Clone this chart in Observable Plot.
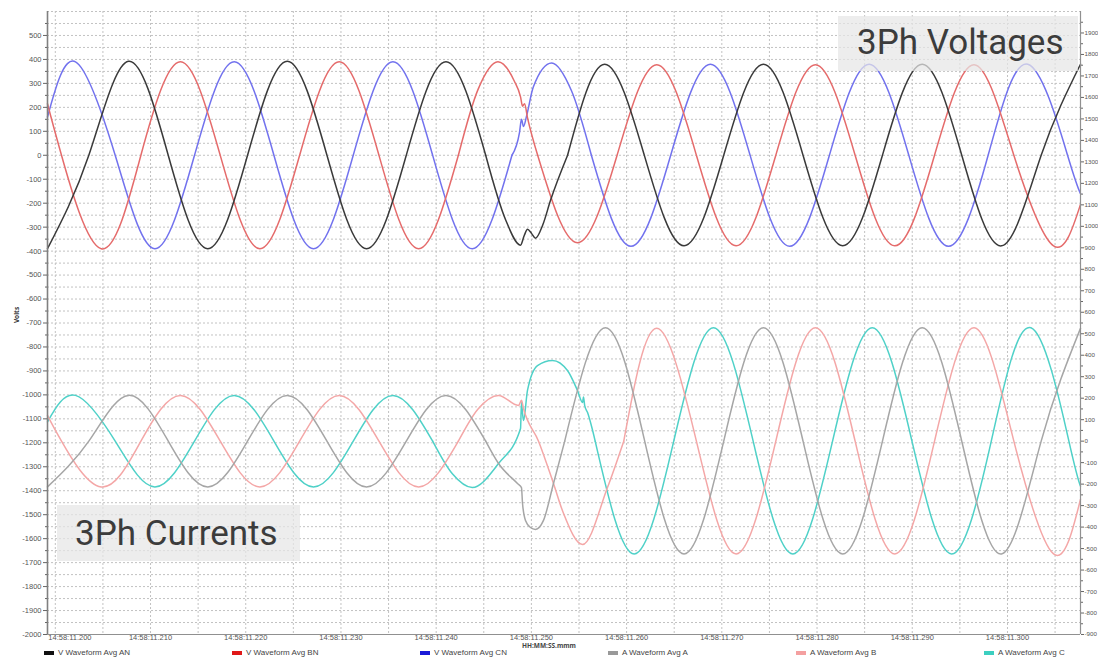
<!DOCTYPE html>
<html><head><meta charset="utf-8">
<script src="https://cdn.jsdelivr.net/npm/d3@7"></script>
<script src="https://cdn.jsdelivr.net/npm/@observablehq/plot@0.6"></script>
<style>
body{margin:0;background:#fff;font-family:"Liberation Sans",Arial,sans-serif;}
#wrap{position:relative;width:1098px;height:659px;overflow:hidden;background:#fff;}
#chart{position:absolute;left:0;top:0;}
.box{position:absolute;background:rgba(230,230,230,0.72);font-family:Roboto,sans-serif;font-size:35px;color:#3c3c3c;box-sizing:border-box;line-height:1;}
#legend{position:absolute;left:0;top:647px;width:1098px;height:11px;font-size:8px;line-height:10px;color:#444;}
.li{position:absolute;top:0;height:11px;display:flex;align-items:center;white-space:nowrap;}
.sw{display:inline-block;width:10px;height:4px;margin-right:4px;}
</style></head><body><div id="wrap"><div id="chart"></div>
<div class="box" id="boxV" style="left:838px;top:16px;width:240px;height:55px;padding:9px 0 0 19px;">3Ph Voltages</div>
<div class="box" id="boxA" style="left:57px;top:505px;width:243px;height:56px;padding:11px 0 0 18px;">3Ph Currents</div>
<div id="legend"></div></div>
<script>
// ---- axis domains / ticks ----
const timeDomain = [199.18, 307.67];          // ms after 14:58:11
const voltDomain = [-2000, 600];               // left axis (Volts)
const ampDomain = [-900, 2000];                // right axis (Amps)
const timeTicks = [210, 220, 230, 240, 250, 260, 270, 280, 290, 300];
const timePrefix = "14:58:11.";
const legendNames = ["V Waveform Avg AN", "V Waveform Avg BN", "V Waveform Avg CN", "A Waveform Avg A", "A Waveform Avg B", "A Waveform Avg C"];

// ---- voltage V AN (black) [ms, V] ----
const vAN_pre = [[199.18,-390],[203.52,0],[207.69,392],[211.86,0],[216.02,-390],[220.19,0],[224.36,392],[228.53,0],[232.69,-390],[236.86,0],[241.03,390],[245.2,0]];
const vAN_evt = [[245.2,0],[247.3,-270],[248.86,-375],[249.25,-335],[249.59,-309],[250.0,-325],[250.43,-346],[251.2,-290],[252.01,-188],[253.8,0]];
const vAN_post = [[253.8,0],[257.7,380],[261.86,0],[266.03,-378],[270.2,0],[274.37,380],[278.53,0],[282.7,-378],[286.87,0],[291.04,380],[295.2,0],[299.37,-378],[303.54,0],[307.67,380]];
// ---- voltage V BN (red) ----
const vBN_pre = [[199.18,215],[200.65,0],[204.82,-390],[208.99,0],[213.15,390],[217.32,0],[221.49,-390],[225.66,0],[229.82,390],[233.99,0],[238.16,-390],[242.33,0]];
const vBN_evt = [[242.33,0],[244.4,275],[246.49,390],[248.2,310],[248.86,244],[249.07,205],[249.28,215],[249.6,155],[250.66,0]];
const vBN_post = [[250.66,0],[254.83,-365],[259.0,0],[263.16,378],[267.33,0],[271.5,-378],[275.67,0],[279.83,378],[284.0,0],[288.17,-378],[292.34,0],[296.5,378],[300.67,0],[304.84,-378],[307.67,-205]];
// ---- voltage V CN (blue) ----
const vCN_pre = [[199.18,160],[202.12,390],[206.29,0],[210.45,-390],[214.62,0],[218.79,390],[222.96,0],[227.12,-390],[231.29,0],[235.46,390],[239.63,0],[243.79,-390],[247.96,0]];
const vCN_evt = [[247.96,0],[248.75,95],[248.96,150],[249.17,120],[249.5,165],[250.2,285],[252.13,385],[254.2,270],[256.3,0]];
const vCN_post = [[256.3,0],[260.46,-380],[264.63,0],[268.8,380],[272.97,0],[277.13,-380],[281.3,0],[285.47,380],[289.64,0],[293.8,-380],[297.97,0],[302.14,380],[306.31,0],[307.67,-160]];
// ---- current A A (grey) [ms, A] ----
const aA_pre = [[199.18,-213],[203.52,0],[207.69,213],[211.86,0],[216.02,-213],[220.19,0],[224.36,213],[228.53,0],[232.69,-213],[236.86,0],[241.03,213],[245.2,0]];
const aA_evt = [[245.2,0],[246.55,-104],[248.54,-197],[248.96,-216],[249.07,-290],[249.38,-369],[249.91,-402],[250.43,-411],[251.27,-369],[252.32,-197],[253.5,0]];
const aA_post = [[253.5,0],[257.78,528],[261.9,0],[266.03,-525],[270.2,0],[274.37,528],[278.53,0],[282.7,-525],[286.87,0],[291.04,528],[295.2,0],[299.37,-525],[303.54,0],[307.67,525]];
// ---- current A B (pink) ----
const aB_pre = [[199.18,120],[200.65,0],[204.82,-213],[208.99,0],[213.15,213],[217.32,0],[221.49,-213],[225.66,0],[229.82,213],[233.99,0],[238.16,-213],[242.33,0]];
const aB_evt = [[242.33,0],[244.4,150],[246.55,213],[248.65,166],[248.96,190],[249.17,152],[250.75,0],[252.32,-197],[253.37,-336],[255.37,-481],[257.99,-216],[259.7,0]];
const aB_post = [[259.7,0],[263.16,525],[267.33,0],[271.5,-525],[275.67,0],[279.83,528],[284.0,0],[288.17,-525],[292.34,0],[296.5,528],[300.67,0],[304.84,-525],[307.67,-270]];
// ---- current A C (teal) ----
const aC_pre = [[199.18,90],[202.12,213],[206.29,0],[210.45,-213],[214.62,0],[218.79,213],[222.96,0],[227.12,-213],[231.29,0],[235.46,213],[239.63,0]];
const aC_evt = [[239.63,0],[241.7,-152],[243.79,-216],[246.55,-104],[248.86,59],[248.96,180],[249.07,130],[249.17,96],[249.59,236],[250.64,352],[252.22,376],[253.79,329],[254.84,236],[255.37,180],[255.47,205],[255.6,165],[255.89,134],[256.7,0]];
const aC_post = [[256.7,0],[260.8,-525],[264.95,0],[269.12,528],[273.29,0],[277.46,-525],[281.63,0],[285.8,528],[289.97,0],[294.13,-525],[298.3,0],[302.47,528],[306.45,0],[307.67,-210]];

// ---- build ----
const ampToVolt = d3.scaleLinear().domain(ampDomain).range(voltDomain);
const series = [
  {name: legendNames[0], color: "#3a3a3a", amp: false, pre: vAN_pre, evt: vAN_evt, post: vAN_post},
  {name: legendNames[1], color: "#e56b6b", amp: false, pre: vBN_pre, evt: vBN_evt, post: vBN_post},
  {name: legendNames[2], color: "#7272ee", amp: false, pre: vCN_pre, evt: vCN_evt, post: vCN_post},
  {name: legendNames[3], color: "#a6a6a6", amp: true, pre: aA_pre, evt: aA_evt, post: aA_post},
  {name: legendNames[4], color: "#f4a7a7", amp: true, pre: aB_pre, evt: aB_evt, post: aB_post},
  {name: legendNames[5], color: "#4fd1c8", amp: true, pre: aC_pre, evt: aC_evt, post: aC_post}
];
const swatchColors = ["#111", "#e01818", "#1a1ad8", "#999", "#f4a0a0", "#3ccfc0"];
function toRows(arr, s, seg) {
  return arr.map(([t, v]) => ({t, y: s.amp ? ampToVolt(v) : v, seg}));
}
const lineMarks = [];
for (const s of series.slice().reverse()) {
  const smooth = toRows(s.pre, s, "pre").concat(toRows(s.post, s, "post"));
  lineMarks.push(Plot.line(smooth, {x: "t", y: "y", z: "seg", stroke: s.color, strokeWidth: 1.5, curve: "natural"}));
  lineMarks.push(Plot.line(toRows(s.evt, s, "evt"), {x: "t", y: "y", stroke: s.color, strokeWidth: 1.5, curve: "monotone-x"}));
}
const gridY = d3.range(voltDomain[0], voltDomain[1] + 1, 50);
const gridX = d3.range(200, 308, 5);
const leftMajor = d3.range(-2000, 600, 100);
const leftMinor = d3.range(-1950, 600, 100);
const rightMajor = d3.range(-900, 2000, 100).map(ampToVolt);
const rightMinor = d3.range(-850, 2000, 100).map(ampToVolt);
const tickFont = {fontSize: 7.5, fill: "#555", fontFamily: "Liberation Sans, Arial, sans-serif"};

const chart = Plot.plot({
  width: 1098, height: 647,
  marginLeft: 47, marginRight: 18, marginTop: 11, marginBottom: 13,
  x: {domain: timeDomain, label: null},
  y: {domain: voltDomain, label: null},
  style: {background: "transparent", overflow: "visible"},
  marks: [
    Plot.gridY(gridY, {stroke: "#c2c2c2", strokeOpacity: 1, strokeDasharray: "2,2"}),
    Plot.gridX(gridX, {stroke: "#c2c2c2", strokeOpacity: 1, strokeDasharray: "2,2"}),
    ...lineMarks,
    Plot.ruleX([timeDomain[0]], {stroke: "#808080", strokeWidth: 1.6}),
    Plot.ruleX([timeDomain[1]], {stroke: "#909090", strokeWidth: 1.2}),
    Plot.ruleY([voltDomain[0]], {stroke: "#909090", strokeWidth: 1.2}),
    Plot.axisY(leftMajor, {anchor: "left", tickSize: 4, tickPadding: 2, stroke: "#666", ...tickFont, tickFormat: d => String(d)}),
    Plot.axisY(leftMinor, {anchor: "left", tickSize: 2, stroke: "#666", tickFormat: () => null}),
    Plot.axisY(rightMajor, {anchor: "right", tickSize: 3, tickPadding: 1, stroke: "#666", ...tickFont, fontSize: 6.2, tickFormat: d => String(Math.round(ampToVolt.invert(d)))}),
    Plot.axisY(rightMinor, {anchor: "right", tickSize: 2, stroke: "#666", tickFormat: () => null}),
    Plot.axisX(timeTicks, {anchor: "bottom", tickSize: 0, tickPadding: 0, ...tickFont, tickFormat: d => timePrefix + d}),
    Plot.axisX([200], {anchor: "bottom", tickSize: 0, tickPadding: 0, ...tickFont, textAnchor: "start", dx: -7, tickFormat: d => timePrefix + d}),
    Plot.text(["HH:MM:SS.mmm"], {frameAnchor: "bottom", dx: -15, dy: 13, fontSize: 6.5, fontWeight: "bold", fill: "#444"}),
    Plot.text(["Volts"], {frameAnchor: "left", rotate: -90, dx: -31, fontSize: 6.5, fontWeight: "bold", fill: "#333"})
  ]
});
document.getElementById("chart").appendChild(chart);

// legend
const legend = document.getElementById("legend");
legendNames.forEach((n, i) => {
  const d = document.createElement("div");
  d.className = "li";
  d.style.left = (44 + 188 * i) + "px";
  d.innerHTML = `<span class="sw" style="background:${swatchColors[i]}"></span>${n}`;
  legend.appendChild(d);
});
</script></body></html>
